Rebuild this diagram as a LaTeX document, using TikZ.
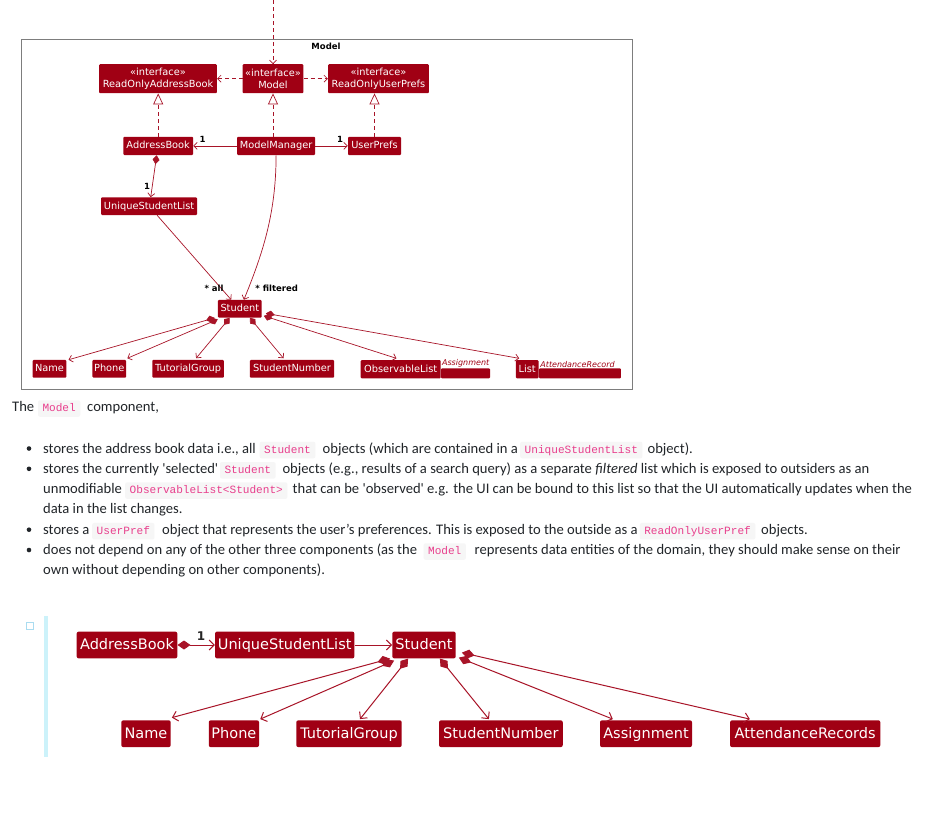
\documentclass[tikz,border=0pt]{standalone}
\usepackage{fontspec}
\setmainfont{Carlito}[Ligatures=TeXOff]
\newfontfamily\dgfont{DejaVu Sans}
\newfontfamily\codefont{Liberation Mono}[Ligatures=TeXOff]
\usetikzlibrary{arrows.meta,calc}
\definecolor{umlred}{RGB}{160,0,20}
\definecolor{umlline}{RGB}{168,20,40}
\definecolor{codepink}{RGB}{232,62,140}
\definecolor{codebg}{RGB}{246,246,246}
\definecolor{bodytext}{RGB}{33,37,41}
\definecolor{barcyan}{RGB}{204,242,250}
\definecolor{boxblue}{RGB}{170,220,240}
\definecolor{framegray}{RGB}{125,125,125}
\tikzset{
  box/.style={fill=umlred, text=white, font=\dgfont\fontsize{9.8}{12.4}\selectfont, inner sep=0pt, rounded corners=1pt, align=center},
  sbox/.style={box, text height=7.6pt, text depth=1.8pt},
  bigbox/.style={fill=umlred, text=white, font=\dgfont\fontsize{14.5}{17}\selectfont, inner sep=0pt, rounded corners=2pt, minimum height=26.8pt, text height=11.6pt, text depth=2.4pt},
  gen/.style={text=umlred, font=\dgfont\itshape\fontsize{8}{9}\selectfont, inner sep=0pt},
  dep/.style={draw=umlline, dash pattern=on 4pt off 3pt, line width=0.7pt, -{Straight Barb[length=3.5pt,width=7pt]}},
  real/.style={draw=umlline, dash pattern=on 4pt off 3pt, line width=0.7pt, -{Triangle[open,length=11pt,width=10pt,fill=white]}},
  assoc/.style={draw=umlline, line width=0.7pt, -{Straight Barb[length=3.5pt,width=7pt]}},
  comp/.style={draw=umlline, line width=0.7pt, {Diamond[length=9pt,width=7pt]}-{Straight Barb[length=3.5pt,width=7pt]}},
  bassoc/.style={draw=umlline, line width=1pt, -{Straight Barb[length=5pt,width=10pt]}},
  bcomp/.style={draw=umlline, line width=1pt, {Diamond[length=13pt,width=9pt]}-{Straight Barb[length=5pt,width=10pt]}},
  lbl/.style={font=\dgfont\bfseries\fontsize{8.5}{10}\selectfont, text=black, inner sep=0pt},
  body/.style={font=\fontsize{14.6}{17}\selectfont, text=bodytext, inner sep=0pt, anchor=base west},
  code/.style={fill=codebg, rounded corners=2pt, text=codepink, font=\codefont\fontsize{11.1}{12}\selectfont, inner xsep=4.5pt, inner ysep=0pt, text height=9pt, text depth=3pt, minimum height=16.5pt, anchor=base west},
  bullet/.style={circle, fill=bodytext, inner sep=0pt, minimum size=4.6pt}
}
\newcommand{\cs}[1]{#1\hspace{4.8pt}}
\begin{document}
\begin{tikzpicture}[x=1pt,y=-1pt]
\useasboundingbox (0,0) rectangle (931,815);
\fill[white] (0,0) rectangle (931,815);

% ---------------- top diagram ----------------
\draw[framegray, line width=0.8pt] (21,39) rectangle (632,389);
\node[font=\dgfont\bfseries\fontsize{8.5}{10}\selectfont, inner sep=0pt] (title) at (326,46) {Model};

\node[box, minimum width=117.7pt, minimum height=29pt] (ROAB) at (158,78.7) {«interface»\\ReadOnlyAddressBook};
\node[box, minimum width=60.6pt, minimum height=29pt] (Model) at (273,78.7) {«interface»\\Model};
\node[box, minimum width=100.7pt, minimum height=29pt] (ROUP) at (378.5,78.7) {«interface»\\ReadOnlyUserPrefs};

\node[sbox, minimum width=69.7pt, minimum height=18.3pt] (AB) at (158.2,145.9) {AddressBook};
\node[sbox, minimum width=78pt, minimum height=18.3pt] (MM) at (276.1,145.9) {ModelManager};
\node[sbox, minimum width=53pt, minimum height=18.3pt] (UP) at (374.5,145.9) {UserPrefs};
\node[sbox, minimum width=96pt, minimum height=17.7pt] (USL) at (149.1,206.2) {UniqueStudentList};
\node[sbox, minimum width=43.7pt, minimum height=17.7pt] (Stu) at (239.8,308.8) {Student};

\node[sbox, minimum width=33.7pt, minimum height=17.7pt] (Name) at (49.5,368.8) {Name};
\node[sbox, minimum width=33.7pt, minimum height=17.7pt] (Phone) at (109.3,368.8) {Phone};
\node[sbox, minimum width=71.7pt, minimum height=17.7pt] (TG) at (188.1,368.8) {TutorialGroup};
\node[sbox, minimum width=84.4pt, minimum height=17.7pt] (SN) at (292,368.8) {StudentNumber};
\node[sbox, minimum width=80pt, minimum height=18.3pt, anchor=west] (OL) at (360.5,369.2) {ObservableList};
\node[fill=umlred, inner sep=0pt, minimum width=49pt, minimum height=10pt, anchor=south west, rounded corners=1pt] (OLbar) at (OL.south east) {};
\node[gen, anchor=south west] (OLgen) at ($(OL.north east)+(1,7.5)$) {Assignment};
\node[sbox, minimum width=22.6pt, minimum height=18.3pt, anchor=west] (LI) at (515.7,369.2) {List};
\node[fill=umlred, inner sep=0pt, minimum width=82pt, minimum height=10pt, anchor=south west, rounded corners=1pt] (LIbar) at (LI.south east) {};
\node[gen, anchor=south west] (LIgen) at ($(LI.north east)+(1.5,7.5)$) {AttendanceRecord};

\coordinate (topin) at (273,0);
\draw[dep] (topin) -- (Model.north);
\draw[dep] (Model.west) -- (ROAB.east);
\draw[dep] (Model.east) -- (ROUP.west);
\draw[real] (AB.north) -- (AB.north |- ROAB.south);
\draw[real] (MM.north -| Model.south) -- (Model.south);
\draw[real] (UP.north) -- (UP.north |- ROUP.south);

\draw[assoc] (MM.west) -- (AB.east);
\node[lbl] (l1) at (202.5,139.5) {1};
\draw[assoc] (MM.east) -- (UP.west);
\node[lbl] (l2) at (340,139.5) {1};

\draw[comp] ($(AB.south)+(-1.5,0)$) -- ($(USL.north)+(1.6,0)$);
\node[lbl] (l3) at (147,186) {1};

\draw[assoc] ($(USL.south)+(8,0)$) -- ($(Stu.north)+(-8.6,0)$);
\draw[assoc] (MM.south) .. controls (276,215) and (262,255) .. ($(Stu.north)+(4.1,0)$);
\node[lbl] (lall) at (214,288.3) {* all};
\node[lbl] (lfil) at (276.7,288.3) {* filtered};

\draw[comp] ($(Stu.south west)+(-3,0)$) -- ($(Name.north east)+(2,0)$);
\draw[comp] ($(Stu.south west)+(0,1.5)$) -- ($(Phone.north east)+(1,-1.5)$);
\draw[comp] ($(Stu.south west)+(12,0)$) -- ($(TG.north)+(8,-1.5)$);
\draw[comp] ($(Stu.south east)+(-12,0)$) -- ($(SN.north)+(-8.5,-1.5)$);
\draw[comp] ($(Stu.south east)+(2,-2)$) -- ($(OL.north west)+(36,-1.5)$);
\draw[comp] ($(Stu.south east)+(4,-4.5)$) -- ($(LI.north west)+(3.5,-1.5)$);

% ---------------- text ----------------
\node[body] (t0a) at (12,411.5) {The};
\node[code] (c0) at (37.8,411.5) {\cs{Model}};
\node[body] (t0b) at (87,411.5) {component,};

\node[bullet] (b1) at (29,448.5) {};
\node[body] (t1a) at (43,453) {stores the address book data i.e., all};
\node[code] (c1a) at (259.5,453) {\cs{Student}};
\node[body] (t1b) at (322.5,453) {objects (which are contained in a};
\node[code] (c1b) at (520,453) {\cs{UniqueStudentList}};
\node[body] (t1c) at (647.4,453) {object).};

\node[bullet] (b2) at (29,468.8) {};
\node[body] (t2a) at (43,473.3) {stores the currently 'selected'};
\node[code] (c2a) at (219.8,473.3) {\cs{Student}};
\node[body] (t2b) at (282.3,473.3) {objects (e.g., results of a search query) as a separate \textit{filtered} list which is exposed to outsiders as an};

\node[body] (t3a) at (43,493.6) {unmodifiable};
\node[code] (c3a) at (125,493.6) {\cs{ObservableList<Student>}};
\node[body] (t3b) at (292.5,493.6) {that can be 'observed' e.g. the UI can be bound to this list so that the UI automatically updates when the};
\node[body] (t4a) at (43,513.9) {data in the list changes.};

\node[bullet] (b3) at (29,529.7) {};
\node[body] (t5a) at (43,534.2) {stores a};
\node[code] (c5a) at (92,534.2) {\cs{UserPref}};
\node[body] (t5b) at (162,534.2) {object that represents the user’s preferences. This is exposed to the outside as a};
\node[code] (c5b) at (639.6,534.2) {\cs{ReadOnlyUserPref}};
\node[body] (t5c) at (761,534.2) {objects.};

\node[bullet] (b4) at (29,550) {};
\node[body] (t6a) at (43,554.5) {does not depend on any of the other three components (as the};
\node[code] (c6a) at (423.4,554.5) {\cs{Model}};
\node[body] (t6b) at (474.5,554.5) {represents data entities of the domain, they should make sense on their};
\node[body] (t7a) at (43,574.8) {own without depending on other components).};

% ---------------- bottom diagram ----------------
\node[draw=boxblue, line width=0.8pt, inner sep=0pt, minimum size=7pt] (chk) at (30,625.5) {};
\node[fill=barcyan, inner sep=0pt, minimum width=4pt, minimum height=141pt, anchor=north west] (bar) at (44,616) {};

\node[bigbox, minimum width=100.6pt] (BAB) at (127,645) {AddressBook};
\node[bigbox, minimum width=139.3pt] (BUSL) at (284.7,645) {UniqueStudentList};
\node[bigbox, minimum width=63.4pt] (BStu) at (424,645) {Student};

\node[bigbox, minimum width=49.4pt] (BName) at (146,733.7) {Name};
\node[bigbox, minimum width=50.3pt] (BPhone) at (233.9,733.7) {Phone};
\node[bigbox, minimum width=105.4pt] (BTG) at (349,733.7) {TutorialGroup};
\node[bigbox, minimum width=123.7pt] (BSN) at (500.9,733.7) {StudentNumber};
\node[bigbox, minimum width=92pt] (BAs) at (646,733.7) {Assignment};
\node[bigbox, minimum width=150.3pt] (BAR) at (805.2,733.7) {AttendanceRecords};

\draw[bcomp] (BAB.east) -- (BUSL.west);
\node[font=\dgfont\bfseries\fontsize{12}{14}\selectfont, inner sep=0pt, text=black!85] (b1lbl) at (201,636) {1};
\draw[bassoc] (BUSL.east) -- (BStu.west);

\draw[bcomp] ($(BStu.south west)+(-2,0)$) -- ($(BName.north east)+(1,-2.5)$);
\draw[bcomp] ($(BStu.south west)+(2,2)$) -- ($(BPhone.north east)+(1,-1)$);
\draw[bcomp] ($(BStu.south west)+(16,0)$) -- ($(BTG.north)+(11,-1)$);
\draw[bcomp] ($(BStu.south east)+(-16,0)$) -- ($(BSN.north)+(-12,-1)$);
\draw[bcomp] ($(BStu.south east)+(3,-1)$) -- ($(BAs.north west)+(13,-1)$);
\draw[bcomp] ($(BStu.south east)+(6,-6)$) -- ($(BAR.north west)+(20,-1)$);
\end{tikzpicture}
\end{document}
